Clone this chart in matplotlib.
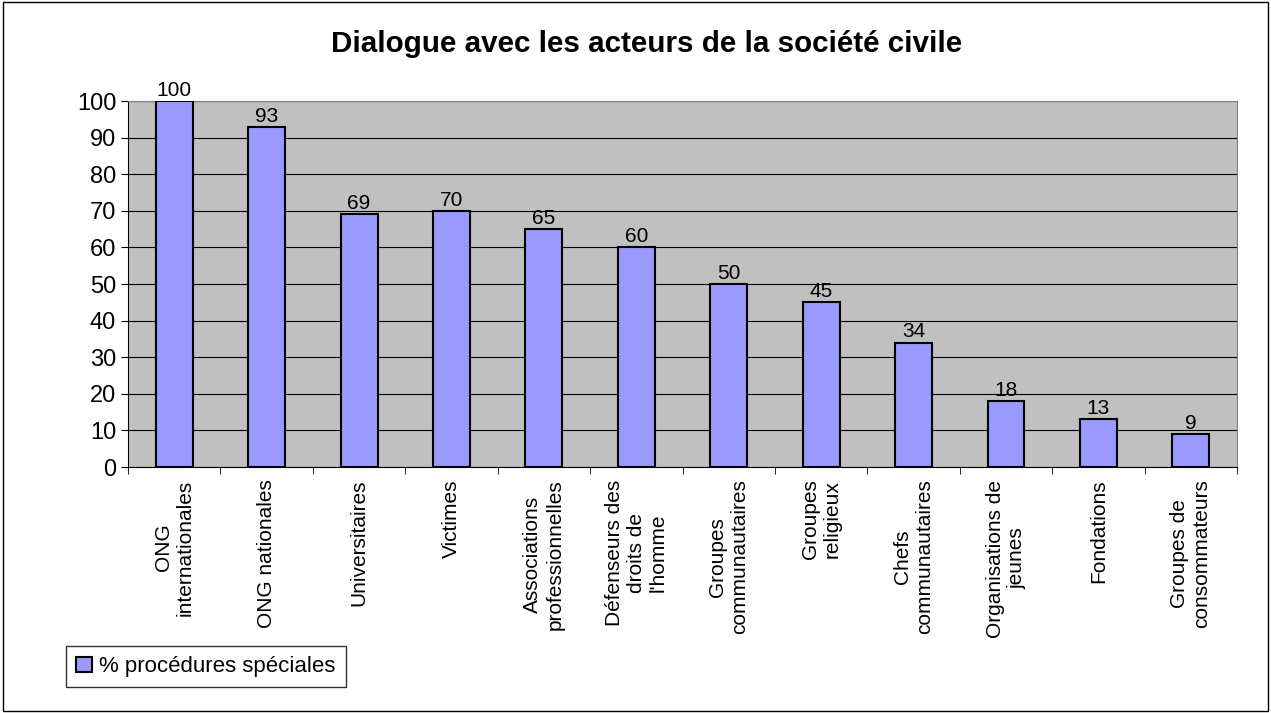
import matplotlib.pyplot as plt
import numpy as np

categories = ["ONG\ninternationales", "ONG nationales", "Universitaires", "Victimes",
              "Associations\nprofessionnelles", "Défenseurs des\ndroits de\nl'homme",
              "Groupes\ncommunautaires", "Groupes\nreligieux", "Chefs\ncommunautaires",
              "Organisations de\njeunes", "Fondations", "Groupes de\nconsommateurs"]
values = [100, 93, 69, 70, 65, 60, 50, 45, 34, 18, 13, 9]
series_name = "% procédures spéciales"

plt.rcParams['font.family'] = ['Liberation Sans', 'DejaVu Sans']

fig = plt.figure(figsize=(12.71, 7.13), dpi=100)
fig.patches.append(plt.Rectangle((0.002, 0.003), 0.996, 0.994, transform=fig.transFigure,
                                 fill=False, edgecolor='black', linewidth=1))
ax = fig.add_axes([0.1007, 0.345, 0.8726, 0.5133])
ax.set_facecolor('#C0C0C0')

x = np.arange(len(values))
bars = ax.bar(x, values, width=0.4, color='#9999FF', edgecolor='black', linewidth=1.5,
              label=series_name, zorder=3)
for xi, v in zip(x, values):
    ax.text(xi, v + 0.3, '%d' % v, ha='center', va='bottom', fontsize=15, zorder=4)

ax.set_xlim(-0.5, len(values) - 0.5)
ax.set_ylim(0, 100)
ax.set_yticks(range(0, 101, 10))
ax.tick_params(axis='y', labelsize=17, length=5, direction='out')
ax.yaxis.grid(True, color='black', linewidth=0.8, zorder=1)
ax.set_axisbelow(True)

ax.set_xticks(x)
ax.set_xticklabels(categories, rotation=90, fontsize=15, ha='center', va='top',
                   multialignment='center')
ax.tick_params(axis='x', length=0, pad=9)
ax.set_xticks(np.arange(len(values) + 1) - 0.5, minor=True)
ax.tick_params(axis='x', which='minor', length=5)

for s in ['top', 'right']:
    ax.spines[s].set_color('#808080')
for s in ['left', 'bottom']:
    ax.spines[s].set_color('black')

fig.suptitle("Dialogue avec les acteurs de la société civile", fontsize=21.3,
             fontweight='bold', x=0.509, y=0.958)

leg = fig.legend(loc='lower left', bbox_to_anchor=(0.052, 0.036), borderaxespad=0,
                 fontsize=16, frameon=True, fancybox=False, edgecolor='black',
                 handlelength=0.7, handleheight=0.7, handletextpad=0.35, borderpad=0.45)
leg.get_frame().set_linewidth(1)

fig.savefig('out.png', dpi=100)
